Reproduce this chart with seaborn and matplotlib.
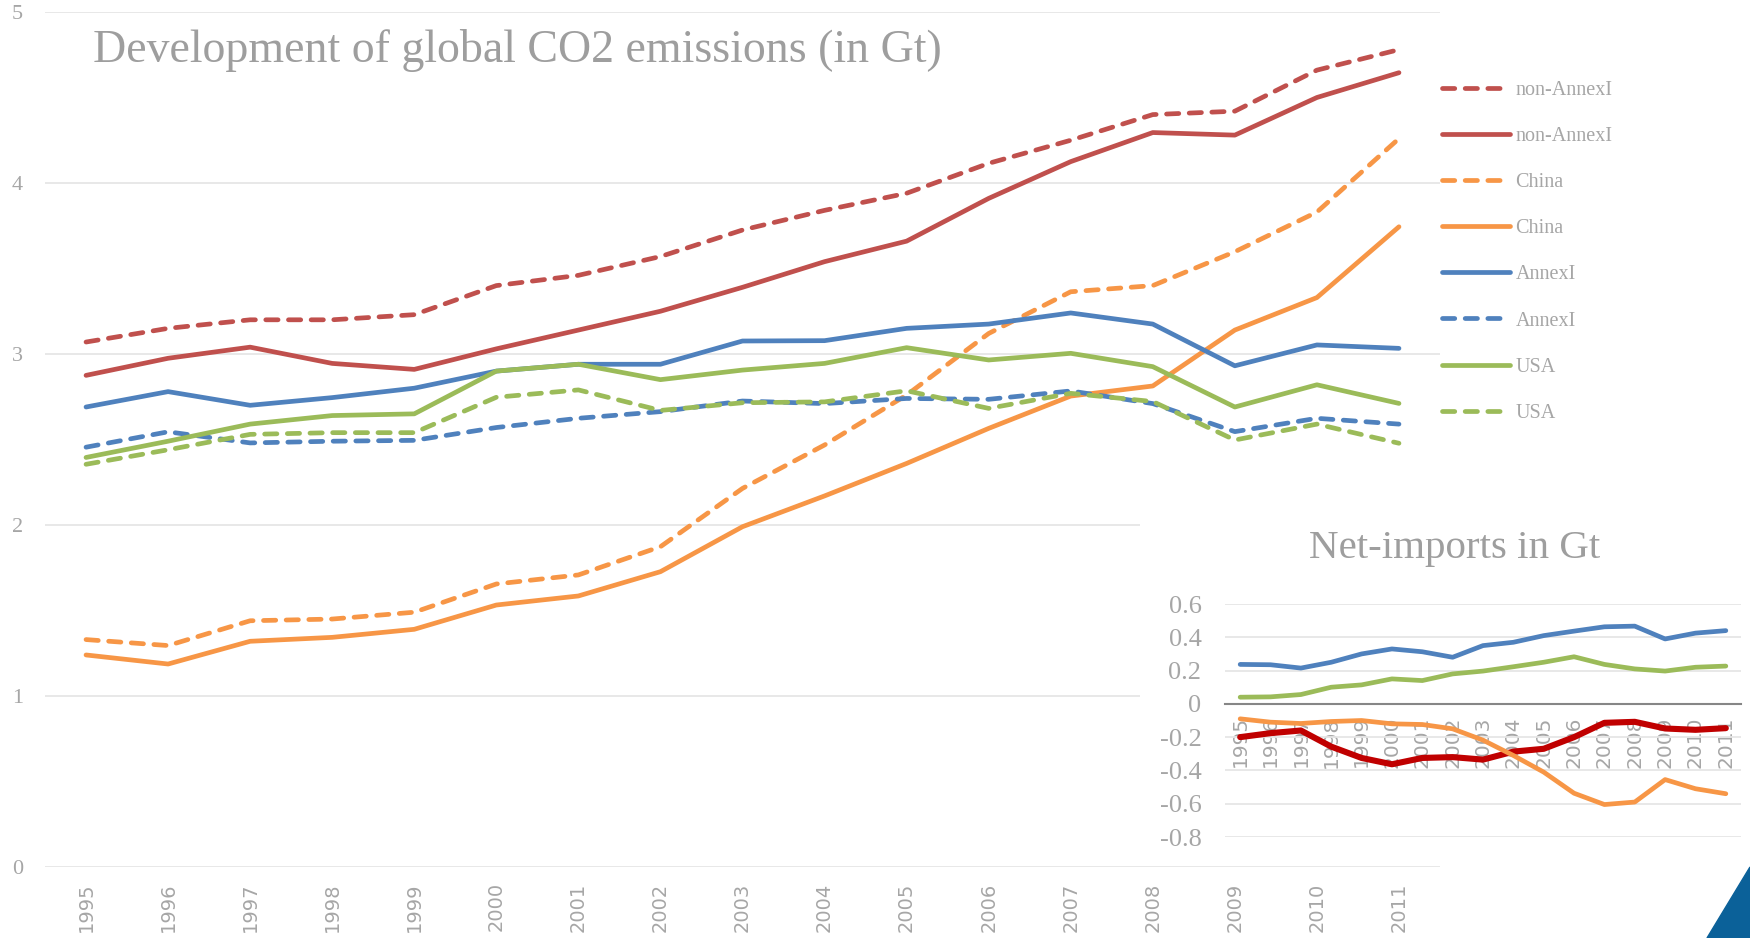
import numpy as np
import pandas as pd
import matplotlib.pyplot as plt
from matplotlib.patches import Polygon
import seaborn as sns

# data (Gt CO2)
years = [str(y) for y in range(1995, 2012)]

non_annex_cons = [3.07, 3.15, 3.20, 3.20, 3.23, 3.40, 3.46, 3.57, 3.725, 3.84, 3.94, 4.115, 4.25, 4.40, 4.42, 4.66, 4.78]
non_annex_prod = [2.875, 2.975, 3.04, 2.945, 2.91, 3.03, 3.14, 3.25, 3.39, 3.54, 3.66, 3.91, 4.125, 4.295, 4.28, 4.50, 4.645]
china_cons = [1.33, 1.295, 1.44, 1.45, 1.49, 1.655, 1.708, 1.873, 2.214, 2.468, 2.76, 3.12, 3.364, 3.40, 3.598, 3.83, 4.26]
china_prod = [1.24, 1.187, 1.32, 1.343, 1.39, 1.532, 1.585, 1.727, 1.99, 2.17, 2.36, 2.565, 2.754, 2.813, 3.14, 3.33, 3.744]
annex_prod = [2.69, 2.78, 2.70, 2.745, 2.80, 2.90, 2.94, 2.94, 3.076, 3.078, 3.15, 3.175, 3.24, 3.175, 2.931, 3.053, 3.033]
annex_cons = [2.455, 2.545, 2.48, 2.49, 2.495, 2.57, 2.624, 2.663, 2.725, 2.71, 2.74, 2.735, 2.784, 2.71, 2.546, 2.624, 2.59]
usa_prod = [2.395, 2.49, 2.59, 2.64, 2.65, 2.90, 2.94, 2.85, 2.906, 2.945, 3.037, 2.965, 3.004, 2.926, 2.69, 2.82, 2.711]
usa_cons = [2.355, 2.44, 2.53, 2.54, 2.54, 2.747, 2.79, 2.67, 2.715, 2.72, 2.785, 2.682, 2.77, 2.722, 2.497, 2.59, 2.478]

net_annex = [0.237, 0.235, 0.215, 0.25, 0.30, 0.33, 0.313, 0.28, 0.35, 0.37, 0.41, 0.437, 0.463, 0.467, 0.39, 0.425, 0.44]
net_usa = [0.04, 0.042, 0.056, 0.10, 0.114, 0.15, 0.14, 0.18, 0.197, 0.223, 0.25, 0.283, 0.237, 0.21, 0.197, 0.22, 0.227]
net_china = [-0.09, -0.11, -0.118, -0.106, -0.10, -0.12, -0.124, -0.15, -0.218, -0.31, -0.41, -0.537, -0.605, -0.59, -0.455, -0.51, -0.54]
net_nonannex = [-0.20, -0.176, -0.16, -0.257, -0.325, -0.363, -0.325, -0.32, -0.335, -0.287, -0.27, -0.20, -0.114, -0.108, -0.148, -0.156, -0.146]
net_ticks = [-0.8, -0.6, -0.4, -0.2, 0.0, 0.2, 0.4, 0.6]

RED = "#C0504D"
ORANGE = "#F79646"
BLUE = "#4F81BD"
GREEN = "#9BBB59"
DARKRED = "#C00000"
GREY = "#A6A6A6"
YEARFONT = ["DejaVu Sans"]

sns.set_theme(style="white")
plt.rcParams['font.family'] = ['Liberation Serif', 'DejaVu Serif']

W, H = 1750, 938
fig = plt.figure(figsize=(W / 100, H / 100), dpi=100)
pos = np.arange(len(years))

# 本体のグラフ
ax = fig.add_axes([45 / W, 1 - 867 / H, 1395 / W, 855 / H], zorder=1)
series = [
    ("non-AnnexI", non_annex_cons, RED, True),
    ("non-AnnexI", non_annex_prod, RED, False),
    ("China", china_cons, ORANGE, True),
    ("China", china_prod, ORANGE, False),
    ("AnnexI", annex_prod, BLUE, False),
    ("AnnexI", annex_cons, BLUE, True),
    ("USA", usa_prod, GREEN, False),
    ("USA", usa_cons, GREEN, True),
]
for lab, vals, col, dashed in series:
    df = pd.DataFrame({"x": pos, "y": vals})
    if dashed:
        kw = dict(linestyle=(0, (2.6, 2.2)), dash_capstyle="round")
    else:
        kw = dict(solid_capstyle="round")
    sns.lineplot(data=df, x="x", y="y", ax=ax, color=col, lw=3.4, label=lab, **kw)
if ax.get_legend() is not None:
    ax.get_legend().remove()

ax.set_xlim(-0.5, len(years) - 0.5)
ax.set_ylim(0, 5)
ax.set_xticks(pos)
ax.set_xticklabels(years, rotation=90, family=YEARFONT, fontsize=14)
ax.set_yticks(range(6))
ax.set_xlabel("")
ax.set_ylabel("")
ax.grid(axis="y", color="#E6E6E6", lw=1.3)
ax.tick_params(axis="both", colors=GREY, length=0)
ax.tick_params(axis="y", pad=16, labelsize=16)
ax.tick_params(axis="x", pad=11)
for s in ax.spines.values():
    s.set_visible(False)

fig.text(93 / W, 1 - 62 / H, "Development of global CO2 emissions (in Gt)",
         fontsize=33, color="#9E9E9E", va="baseline", ha="left")

handles = ax.get_lines()[:len(series)]
fig.legend(handles, [s[0] for s in series], loc="upper left",
           bbox_to_anchor=(1442 / W, 1 - 81 / H), frameon=False, fontsize=14.5,
           handlelength=3.4, handletextpad=0.25, labelspacing=1.34, borderpad=0,
           borderaxespad=0, labelcolor=GREY)

# 差し込みグラフの白い背景
bg = fig.add_axes([1140 / W, 1 - 862 / H, 610 / W, 343 / H], zorder=2)
bg.set_facecolor("white")
bg.set_xticks([])
bg.set_yticks([])
for s in bg.spines.values():
    s.set_visible(False)

ax2 = fig.add_axes([1225 / W, 1 - 837 / H, 516 / W, 233 / H], zorder=3)
ax2.patch.set_alpha(0)
for s in ["top", "right", "left"]:
    ax2.spines[s].set_visible(False)
ax2.spines["bottom"].set_position(("data", 0))
ax2.spines["bottom"].set_color("#868686")
ax2.spines["bottom"].set_linewidth(1.5)
for vals, col, lw in [(net_annex, BLUE, 3.4), (net_usa, GREEN, 3.4),
                      (net_nonannex, DARKRED, 4.4), (net_china, ORANGE, 3.4)]:
    sns.lineplot(x=pos, y=vals, ax=ax2, color=col, lw=lw, solid_capstyle="round")
ax2.set_xlim(-0.5, len(years) - 0.5)
ax2.set_ylim(-0.8, 0.6)
ax2.set_yticks(net_ticks)
ax2.set_yticklabels([f"{v:g}" for v in net_ticks], fontsize=19)
ax2.set_xticks(pos)
ax2.set_xticklabels(years, rotation=90, family=YEARFONT, fontsize=14.5)
ax2.grid(axis="y", color="#E6E6E6", lw=1.3)
ax2.tick_params(axis="both", colors=GREY, length=0)
ax2.tick_params(axis="y", pad=17)
ax2.tick_params(axis="x", pad=9)
fig.text(1455 / W, 1 - 558 / H, "Net-imports in Gt", fontsize=29.5,
         color="#9E9E9E", ha="center", va="baseline")

# 右下の青い三角
fig.add_artist(Polygon([(1707 / W, 0), (1, 71 / H), (1, 0)], closed=True,
                       transform=fig.transFigure, color="#0B6199", zorder=5))

fig.savefig("out.png", dpi=100)
